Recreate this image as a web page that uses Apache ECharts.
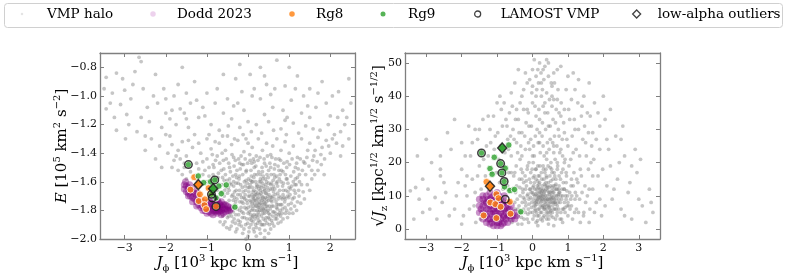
<!DOCTYPE html>
<html>
<head>
<meta charset="utf-8">
<script src="https://cdn.jsdelivr.net/npm/echarts@6/dist/echarts.min.js"></script>
<style>html,body{margin:0;padding:0;background:#fff}#c{width:793px;height:275px}</style>
</head>
<body>
<div id="c"></div>
<script>
// ---------------- data ----------------
// Left panel: J_phi [1e3 kpc km/s] vs E [1e5 km^2/s^2]
const haloE = [
[-3.45,-0.87],[-3.2,-0.84],[-2.75,-0.83],[-2.6,-0.76],[-2.65,-0.73],[-3.45,-1.09],[-3.35,-1.05],[-3.1,-1.06],[-2.95,-1.13],[-3.2,-1.24],[-2.98,-1.3],[-2.7,-1.25],[-2.5,-1.28],[-2.6,-1.15],[-2.3,-1.0],[-2.2,-1.05],[-2.0,-1.12],[-1.8,-1.0],[-1.65,-1.09],[-1.5,-0.98],[-1.3,-0.9],[-1.0,-0.98],[-0.8,-1.05],[-0.5,-1.02],[-0.3,-0.88],[0.05,-0.85],[0.3,-0.8],[0.7,-0.75],[0.9,-0.93],[1.2,-0.86],[1.5,-0.95],[1.8,-0.9],[2.2,-0.97],[2.45,-0.88],[2.3,-1.1],[2.0,-1.14],[1.65,-1.08],[1.3,-1.12],[1.05,-1.03],[0.6,-1.08],[0.3,-1.02],[-0.1,-1.1],[-0.4,-1.16],[-0.9,-1.2],[-1.2,-1.15],[-1.45,-1.22],[-1.75,-1.2],[-2.1,-1.22],[-2.35,-1.3],[-2.15,-1.35],[-1.9,-1.28],[-1.6,-1.32],[-1.3,-1.27],[-1.0,-1.3],[-0.7,-1.24],[-0.5,-1.28],[-0.2,-1.22],[0.2,-1.2],[0.5,-1.18],[0.8,-1.23],[1.1,-1.19],[1.4,-1.21],[1.75,-1.24],[2.1,-1.27],[2.35,-1.2],[2.5,-1.05],[-3.0,-0.96],[-2.85,-1.02],[-0.15,-0.97],[0.45,-0.92],
[-1.95,-1.4],[-1.8,-1.45],[-1.7,-1.38],[-1.55,-1.5],[-1.5,-1.42],[-1.35,-1.36],[-1.25,-1.47],[-1.15,-1.4],[-1.05,-1.52],[-1.0,-1.44],[-0.9,-1.37],[-0.85,-1.48],[-0.75,-1.42],[-0.7,-1.33],[-0.65,-1.52],[-0.6,-1.45],[-0.55,-1.38],[-0.45,-1.5],[-0.4,-1.34],[-0.35,-1.43],[-0.3,-1.55],[-0.25,-1.31],[-0.2,-1.47],[-0.1,-1.39],[-0.05,-1.53],[0.0,-1.33],[0.05,-1.45],[0.1,-1.36],[0.15,-1.5],[0.2,-1.42],[0.25,-1.3],[0.3,-1.55],[0.35,-1.38],[0.4,-1.47],[0.45,-1.33],[0.5,-1.52],[0.55,-1.41],[0.6,-1.35],[0.65,-1.48],[0.7,-1.3],[0.75,-1.44],[0.8,-1.38],[0.85,-1.53],[0.9,-1.32],[0.95,-1.46],[1.0,-1.4],[1.1,-1.35],[1.15,-1.5],[1.2,-1.43],[1.3,-1.3],[1.35,-1.46],[1.45,-1.38],[1.5,-1.33],[1.6,-1.42],[1.7,-1.29],[1.8,-1.36],[1.9,-1.31],[2.0,-1.4],[2.15,-1.33],[2.25,-1.42],[-1.4,-1.53],[-0.95,-1.56],[1.25,-1.55],[1.55,-1.52],
[-0.6,-1.62],[-0.55,-1.75],[-0.5,-1.68],[-0.5,-1.85],[-0.45,-1.58],[-0.42,-1.79],[-0.4,-1.7],[-0.38,-1.88],[-0.35,-1.63],[-0.32,-1.76],[-0.3,-1.83],[-0.28,-1.57],[-0.25,-1.69],[-0.22,-1.9],[-0.2,-1.74],[-0.18,-1.62],[-0.15,-1.81],[-0.12,-1.67],[-0.1,-1.93],[-0.08,-1.72],[-0.05,-1.59],[-0.03,-1.86],[0.0,-1.78],[0.0,-1.64],[0.02,-1.95],[0.04,-1.7],[0.06,-1.83],[0.08,-1.56],[0.1,-1.75],[0.12,-1.88],[0.14,-1.66],[0.16,-1.8],[0.18,-1.6],[0.2,-1.92],[0.22,-1.72],[0.24,-1.85],[0.26,-1.65],[0.28,-1.78],[0.3,-1.58],[0.32,-1.9],[0.34,-1.7],[0.36,-1.82],[0.38,-1.63],[0.4,-1.76],[0.42,-1.87],[0.44,-1.68],[0.46,-1.55],[0.48,-1.8],[0.5,-1.73],[0.52,-1.9],[0.55,-1.62],[0.58,-1.77],[0.6,-1.84],[0.62,-1.67],[0.65,-1.57],[0.68,-1.74],[0.7,-1.86],[0.72,-1.63],[0.75,-1.7],[0.78,-1.8],[0.8,-1.6],[0.83,-1.72],[0.86,-1.66],[0.9,-1.78],[0.93,-1.58],[0.96,-1.7],[1.0,-1.64],[1.05,-1.75],[1.1,-1.6],[1.15,-1.68],[1.2,-1.57],[1.3,-1.62],[1.4,-1.55],
[-0.58,-1.7],[-0.48,-1.64],[-0.44,-1.82],[-0.36,-1.73],[-0.26,-1.79],[-0.24,-1.61],[-0.16,-1.71],[-0.14,-1.85],[-0.06,-1.66],[-0.02,-1.75],[0.03,-1.81],[0.05,-1.62],[0.09,-1.69],[0.11,-1.79],[0.13,-1.93],[0.15,-1.73],[0.17,-1.86],[0.19,-1.67],[0.21,-1.77],[0.23,-1.63],[0.25,-1.81],[0.27,-1.74],[0.29,-1.88],[0.31,-1.68],[0.33,-1.76],[0.35,-1.61],[0.37,-1.86],[0.39,-1.72],[0.41,-1.66],[0.43,-1.79],[0.45,-1.74],[0.47,-1.64],[0.49,-1.85],[0.51,-1.69],[0.54,-1.79],[0.57,-1.71],[0.59,-1.65],[0.63,-1.81],[0.66,-1.69],[0.69,-1.61],[0.71,-1.79],[0.74,-1.76],[0.77,-1.66],[0.82,-1.76],[0.88,-1.71],[0.92,-1.66],[0.98,-1.76],[1.02,-1.69],[-0.7,-1.73],[-0.65,-1.8],[-0.75,-1.66],[-0.8,-1.58],[-0.68,-1.88],[-0.52,-1.92],[0.0,-1.98],[0.3,-1.96],[0.55,-1.93],[0.8,-1.88],[1.0,-1.82],[1.2,-1.74],
[0.07,-1.74],[0.12,-1.71],[0.18,-1.77],[0.2,-1.69],[0.26,-1.76],[0.3,-1.72],[0.33,-1.8],[0.38,-1.74],[0.42,-1.71],[0.27,-1.83],[0.14,-1.83],[0.36,-1.67],[0.44,-1.77],[0.1,-1.64],[0.22,-1.8],[0.4,-1.82],[0.48,-1.7],[0.52,-1.77],[-0.08,-1.78],[-0.12,-1.75],[0.01,-1.7],[0.06,-1.77],[0.16,-1.75],[0.24,-1.71],[0.34,-1.73],
[-1.1,-1.55],[-1.0,-1.6],[-0.95,-1.5],[-0.9,-1.63],[-0.85,-1.55],[-0.78,-1.6],[-0.72,-1.54],[-0.62,-1.57],[-1.2,-1.51],[-1.3,-1.56],[-1.5,-1.58],[-1.6,-1.55],[-1.7,-1.52],[-1.85,-1.5],[-0.55,-1.55],[-0.6,-1.9],[-0.45,-1.93],[-0.3,-1.95],[0.2,-1.98],
[-0.87,-1.41],[-0.83,-1.5],[-0.79,-1.45],[-0.73,-1.57],[-0.69,-1.47],[-0.66,-1.62],[-0.63,-1.4],[-0.59,-1.51],[-0.57,-1.66],[-0.53,-1.44],[-0.51,-1.59],[-0.47,-1.47],[-0.46,-1.73],[-0.43,-1.53],[-0.41,-1.62],[-0.39,-1.41],[-0.37,-1.56],[-0.34,-1.49],[-0.33,-1.67],[-0.31,-1.45],[-0.29,-1.61],[-0.27,-1.52],[-0.23,-1.44],[-0.21,-1.56],[-0.19,-1.51],[-0.17,-1.42],[-0.13,-1.55],[-0.11,-1.48],[-0.09,-1.6],[-0.07,-1.44],[-0.04,-1.52],[-0.01,-1.47],[0.01,-1.58],[0.04,-1.41],[0.07,-1.52],[0.09,-1.47],[0.11,-1.6],[0.13,-1.44],[0.16,-1.55],[0.19,-1.49],[0.21,-1.62],[0.24,-1.45],[0.26,-1.53],[0.29,-1.43],[0.31,-1.6],[0.34,-1.5],[0.37,-1.56],[0.39,-1.44],[0.42,-1.58],[0.44,-1.49],[0.47,-1.42],[0.5,-1.61],[0.53,-1.47],[0.56,-1.55],[0.58,-1.43],[0.61,-1.59],[0.64,-1.51],[0.67,-1.44],[0.7,-1.56],[0.73,-1.49],[0.76,-1.58],[0.79,-1.45],[0.81,-1.52],[0.84,-1.63],[0.87,-1.47],[0.91,-1.55],[0.94,-1.5],[0.97,-1.61],[1.01,-1.48],[1.04,-1.56],[1.07,-1.44],[1.11,-1.53],[1.14,-1.62],[1.18,-1.47],[1.22,-1.51],[1.27,-1.44],[1.32,-1.52],[1.38,-1.47],[1.43,-1.43],[1.48,-1.49],[1.57,-1.45],[1.63,-1.38],[1.68,-1.46],[1.77,-1.41],[1.86,-1.44],[1.96,-1.35],[2.05,-1.3],
[-0.62,-1.84],[-0.56,-1.88],[-0.41,-1.91],[-0.34,-1.86],[-0.27,-1.93],[-0.19,-1.88],[-0.13,-1.96],[-0.06,-1.9],[0.03,-1.92],[0.08,-1.87],[0.15,-1.95],[0.23,-1.89],[0.28,-1.93],[0.35,-1.9],[0.41,-1.94],[0.46,-1.89],[0.5,-1.96],[0.57,-1.87],[0.63,-1.91],[0.68,-1.84],[0.73,-1.89],[0.79,-1.84],[0.85,-1.86],[0.91,-1.82],[0.96,-1.85],[1.04,-1.79],[1.09,-1.82],[1.13,-1.77],[1.18,-1.8],[1.24,-1.7],[1.28,-1.75],[1.34,-1.67],[1.37,-1.72],[1.44,-1.62],[1.5,-1.66],[1.55,-1.58],[1.62,-1.55],[1.7,-1.52],[1.78,-1.48],[1.85,-1.55],[-0.05,-2.0],[0.4,-1.99],
[-0.46,-1.66],[-0.39,-1.78],[-0.33,-1.71],[-0.29,-1.66],[-0.23,-1.83],[-0.21,-1.66],[-0.17,-1.78],[-0.11,-1.82],[-0.07,-1.63],[-0.04,-1.79],[0.02,-1.67],[0.04,-1.86],[0.09,-1.6],[0.13,-1.77],[0.17,-1.69],[0.19,-1.84],[0.23,-1.75],[0.28,-1.69],[0.32,-1.64],[0.37,-1.79],[0.41,-1.75],[0.46,-1.81],[0.5,-1.66],[0.53,-1.83],[0.56,-1.73],[0.61,-1.77],[0.64,-1.72],[0.67,-1.82],[0.72,-1.68],[0.76,-1.82],[0.8,-1.71],[0.84,-1.79],[0.89,-1.74],[0.94,-1.8],[0.99,-1.71],[1.03,-1.65],[1.08,-1.72],[1.12,-1.66],[1.17,-1.62],[1.23,-1.66],[0.45,-1.6],[0.6,-1.7],[0.35,-1.78],[0.15,-1.7],[-0.15,-1.74],[-0.3,-1.74],[0.7,-1.76],[0.27,-1.6],[0.55,-1.65],[0.05,-1.73],
[-2.8,-0.92],[-3.3,-0.98],[-2.45,-1.08],[-2.05,-0.95],[-1.9,-1.16],[-1.55,-1.12],[-1.4,-1.05],[-1.1,-1.08],[-0.6,-1.12],[-0.25,-1.05],[0.15,-0.95],[0.55,-0.99],[0.85,-1.1],[1.35,-1.0],[1.9,-1.05],[2.4,-1.15],[-2.5,-1.38],[-2.25,-1.44],[-2.0,-1.27],[-1.85,-1.34],[-1.65,-1.44],[-1.45,-1.31],[-1.2,-1.33],[-1.1,-1.46],[-0.95,-1.27],[-0.8,-1.32],[-0.62,-1.28],[-0.48,-1.21],[-0.33,-1.3],[-0.12,-1.27],[0.08,-1.25],[0.33,-1.26],[0.62,-1.24],[0.93,-1.27],[1.23,-1.26],[1.58,-1.23],[1.95,-1.2],[2.18,-1.15],[-1.25,-1.58],[-1.55,-1.47],[-1.75,-1.42],[-2.1,-1.5],[0.0,-1.18],[0.4,-1.13],[-0.05,-1.3],[0.9,-1.17],[1.5,-1.15],[2.3,-1.35],
[-0.35,-1.6],[-0.22,-1.58],[-0.14,-1.64],[-0.02,-1.61],[0.06,-1.59],[0.14,-1.57],[0.22,-1.55],[0.29,-1.63],[0.36,-1.58],[0.43,-1.62],[0.49,-1.57],[0.57,-1.61],[0.63,-1.55],[0.71,-1.6],[0.78,-1.55],[0.86,-1.61],[-0.4,-1.84],[-0.31,-1.89],[-0.24,-1.87],[-0.16,-1.91],[-0.09,-1.85],[-0.01,-1.89],[0.07,-1.9],[0.11,-1.84],[0.18,-1.9],[0.26,-1.87],[0.33,-1.84],[0.39,-1.9],[0.44,-1.85],[0.52,-1.86],[0.59,-1.89],[0.66,-1.86],[0.74,-1.83],[0.83,-1.82],[-0.53,-1.78],[-0.47,-1.84],[-0.37,-1.69],[-0.27,-1.72],[-0.19,-1.69],[-0.1,-1.71],[-0.03,-1.73],[0.08,-1.8],[0.12,-1.67],[0.19,-1.73],[0.25,-1.78],[0.31,-1.75],[0.36,-1.71],[0.43,-1.68],[0.47,-1.77],[0.54,-1.71],[0.6,-1.81],[0.65,-1.65],[0.69,-1.78],[0.73,-1.72],[0.79,-1.76],[0.85,-1.69],[0.91,-1.72],[0.97,-1.67],[1.06,-1.63],[1.15,-1.58],[-0.64,-1.67],[-0.58,-1.59],[-0.53,-1.64],[-0.44,-1.61],[-0.36,-1.81],[-0.2,-1.8],[0.0,-1.82],[0.1,-1.85],[0.21,-1.83],[0.29,-1.8],[0.39,-1.8],[0.5,-1.82],[0.58,-1.74],[0.62,-1.63],[0.3,-1.66],[0.2,-1.64],[0.4,-1.65],[0.13,-1.72],[0.24,-1.68],[0.46,-1.72],[-0.07,-1.69],[0.03,-1.64],[0.35,-1.53],[0.55,-1.5],[0.15,-1.46],[-0.15,-1.48],[0.75,-1.52],[0.95,-1.58],[1.12,-1.71],[1.25,-1.6],
[-3.5,-0.95],[-3.25,-1.15],[-3.05,-0.88],[-2.9,-1.2],[-2.55,-0.95],[-2.4,-1.18],[-2.25,-0.85],[-2.0,-1.02],[-1.85,-1.1],[-1.7,-0.92],[-1.5,-1.16],[-1.25,-1.03],[-1.05,-1.14],[-0.75,-0.95],[-0.6,-0.85],[-0.35,-1.07],[0.1,-1.0],[0.4,-0.86],[0.65,-0.95],[0.95,-1.15],[1.15,-0.95],[1.45,-1.07],[1.7,-0.98],[2.05,-1.0],[2.25,-1.25],[2.45,-1.3],[-1.6,-0.8],[-0.2,-0.78],[1.0,-0.8]
];
const doddE = [
[-1.55,-1.62],[-1.55,-1.65],[-1.5,-1.63],[-1.5,-1.67],[-1.45,-1.64],[-1.45,-1.68],[-1.45,-1.7],[-1.4,-1.66],[-1.4,-1.7],[-1.35,-1.67],[-1.35,-1.71],[-1.35,-1.74],[-1.3,-1.68],[-1.3,-1.72],[-1.25,-1.7],[-1.25,-1.74],[-1.25,-1.77],[-1.2,-1.72],[-1.2,-1.76],[-1.15,-1.73],[-1.15,-1.78],[-1.1,-1.74],[-1.1,-1.77],[-1.1,-1.8],[-1.05,-1.76],[-1.05,-1.8],[-1.0,-1.75],[-1.0,-1.79],[-1.0,-1.82],[-0.95,-1.74],[-0.95,-1.78],[-0.95,-1.81],[-0.9,-1.75],[-0.9,-1.79],[-0.9,-1.82],[-0.85,-1.73],[-0.85,-1.77],[-0.85,-1.8],[-0.85,-1.83],[-0.8,-1.74],[-0.8,-1.78],[-0.8,-1.81],[-0.75,-1.73],[-0.75,-1.76],[-0.75,-1.79],[-0.75,-1.82],[-0.7,-1.75],[-0.7,-1.78],[-0.7,-1.81],[-0.65,-1.74],[-0.65,-1.77],[-0.65,-1.8],[-0.65,-1.83],[-0.6,-1.76],[-0.6,-1.79],[-0.6,-1.82],[-0.55,-1.76],[-0.55,-1.79],[-0.55,-1.81],[-0.5,-1.77],[-0.5,-1.8],[-0.45,-1.78],[-0.45,-1.8],[-0.42,-1.79],
[-1.52,-1.6],[-1.42,-1.62],[-1.32,-1.65],[-1.22,-1.68],[-0.92,-1.77],[-0.82,-1.76],[-0.72,-1.8],[-0.62,-1.78],[-0.68,-1.76],[-0.78,-1.8]
];
const rg8E = [[-1.31,-1.568],[-1.40,-1.655],[-1.17,-1.688],[-1.20,-1.735],[-1.05,-1.723],[-1.06,-1.763],[-1.02,-1.791],[-0.96,-1.644],[-0.91,-1.683],[-0.78,-1.772],[-1.21,-1.62]];
const rg9E = [[-1.21,-1.56],[-1.08,-1.606],[-0.91,-1.60],[-0.71,-1.63],[-0.53,-1.622],[-0.65,-1.683],[-0.78,-1.713],[-0.32,-1.777],[-1.45,-1.48],[-0.81,-1.587],[-0.89,-1.688],[-0.85,-1.648]];
const lamostE = [[-1.45,-1.48],[-0.81,-1.587],[-0.89,-1.688],[-0.78,-1.772],[-0.87,-1.713]];
const outlierE = [[-1.21,-1.62],[-0.85,-1.648]];
const outlierGroupE = ['Rg8','Rg9'];

// Right panel: J_phi vs sqrt(J_z)
const haloJz = [
[-3.45,11.5],[-3.3,12.5],[-3.2,9],[-3.1,5],[-2.95,12],[-2.85,20],[-2.7,3],[-2.6,16],[-2.55,8],[-2.45,11],[-2.3,24],[-2.2,6],[-2.1,14],[-2.0,18],[-1.95,4],[-1.85,10],[-1.8,31],[-1.75,22],[-1.7,15],[-1.65,7],[-1.55,27],[-1.5,19],[-1.45,12],[-1.4,33],[-1.3,25],[-1.2,30],[-1.15,17],[-1.05,28],[-1.0,38],[-0.95,21],[-3.0,27],[-2.4,29],[-2.75,9.5],[-2.0,1.5],[-1.6,2],[3.3,12],[3.1,7],[2.95,17],[2.8,3],[2.7,11],[2.6,22],[2.5,6],[2.4,15],[2.35,28],[2.25,9],[2.2,19],[2.1,13],[2.05,33],[1.95,4],[1.9,24],[1.85,16],[1.8,8],[1.75,38],[1.7,29],[1.65,20],[1.6,12],[1.55,35],[1.5,26],[1.45,5],[1.4,37],[1.38,34],[1.35,18],[1.3,30],[1.25,10],[1.2,42],[1.15,23],[1.1,15],[1.05,33],[1.0,46],[2.9,24],[3.2,2],[2.0,40],[0.8,49],[0.6,47],[0.4,51],[0.35,49],[0.2,50],[0.1,46],[0.0,48],[-0.15,44],[-0.3,40],[-0.45,36],[-0.6,41],[-0.75,33],[0.55,43],[0.7,39],[0.9,36],[0.25,44],
[-0.9,25],[-0.85,31],[-0.8,19],[-0.7,27],[-0.65,35],[-0.6,22],[-0.55,30],[-0.5,17],[-0.45,26],[-0.4,33],[-0.35,21],[-0.3,29],[-0.25,36],[-0.2,24],[-0.15,18],[-0.1,31],[-0.05,27],[0.0,38],[0.05,22],[0.1,34],[0.15,19],[0.2,29],[0.25,40],[0.3,25],[0.35,35],[0.4,21],[0.45,31],[0.5,27],[0.55,37],[0.6,23],[0.65,32],[0.7,18],[0.75,28],[0.8,34],[0.85,22],[0.9,29],[0.95,17],[1.0,25],[0.12,42],[0.32,45],[-0.02,41],[0.48,39],[-0.35,38],[0.18,36],[0.42,26],[0.08,28],[0.28,32],[-0.18,32],[0.62,28],[0.72,42],[-0.62,28],[-0.78,23],[0.38,18],[0.02,20],[-0.28,17],[0.52,20],[0.82,17],[0.22,23],[-0.08,24],[0.58,33],
[-0.5,8],[-0.45,13],[-0.4,4],[-0.35,10],[-0.3,15],[-0.25,6],[-0.2,12],[-0.15,3],[-0.1,9],[-0.05,14],[0.0,5],[0.0,11],[0.05,16],[0.08,7],[0.1,2],[0.12,12],[0.15,9],[0.18,4],[0.2,14],[0.22,7],[0.25,11],[0.28,2.5],[0.3,9],[0.32,15],[0.35,6],[0.38,12],[0.4,3],[0.42,10],[0.45,14],[0.48,7],[0.5,11],[0.52,4],[0.55,9],[0.58,15],[0.6,6],[0.62,12],[0.65,3],[0.68,10],[0.7,7],[0.75,13],[0.8,5],[0.85,10],[0.9,8],[0.95,14],[1.0,4],[1.05,11],[1.1,7],[1.15,13],[1.2,9],[1.3,5],[1.4,11],[1.5,8],
[-0.48,11],[-0.38,7],[-0.28,12],[-0.22,9],[-0.12,6],[-0.08,12],[-0.02,8],[0.03,13],[0.06,10],[0.11,5],[0.14,13],[0.17,8],[0.19,11],[0.23,10],[0.26,5],[0.27,13],[0.31,7],[0.33,11],[0.36,9],[0.39,5],[0.41,13],[0.44,8],[0.46,11],[0.49,5],[0.51,13],[0.54,8],[0.57,11],[0.61,9],[0.64,13],[0.67,6],[0.72,10],[0.78,8],[0.83,12],[0.88,6],[0.93,10],[0.98,7],[1.08,9],
[0.02,9],[0.09,8],[0.13,10],[0.16,6],[0.21,9],[0.24,8],[0.29,10],[0.34,8],[0.37,10],[0.43,9],[0.47,9],[0.53,10],[0.59,8],[0.66,9],[0.74,9],[0.07,12],[0.2,12],[0.3,12],[0.4,7],[0.5,8],[0.6,11],[0.7,12],[-0.15,10],[-0.25,14],[0.1,15],[0.35,17],[0.55,17],[0.75,16],[-0.05,17],[0.25,17],[0.15,1],[0.45,1.5],[0.6,1],[0.85,2],[-0.3,1.5],[-0.6,3],[-0.7,6],[-0.65,12],[-0.75,15],[1.25,15],[1.35,2],
[-0.78,9],[-0.74,4],[-0.7,13],[-0.67,17],[-0.63,8],[-0.58,2],[-0.56,12],[-0.53,16],[-0.49,6],[-0.46,19],[-0.43,9],[-0.41,1.5],[-0.37,15],[-0.34,5],[-0.32,18],[-0.29,8],[-0.27,11],[-0.24,3],[-0.21,16],[-0.19,7],[-0.17,13],[-0.14,19],[-0.11,2],[-0.09,15],[-0.07,5],[-0.04,11],[-0.01,18],[0.01,3],[0.04,7],[0.06,14],[0.09,18],[0.11,9],[0.14,4],[0.16,16],[0.19,6],[0.21,19],[0.23,3],[0.26,15],[0.28,7],[0.31,18],[0.33,4],[0.36,13],[0.39,16],[0.41,6],[0.44,19],[0.46,3],[0.49,16],[0.51,9],[0.54,18],[0.56,5],[0.59,13],[0.61,17],[0.64,8],[0.66,15],[0.69,4],[0.71,19],[0.74,6],[0.77,11],[0.79,15],[0.82,3],[0.86,18],[0.89,12],[0.92,5],[0.96,16],[0.99,10],[1.03,19],[1.06,6],[1.09,13],[1.13,3],[1.17,17],[1.21,11],[1.24,6],[1.28,14],[1.33,9],[1.38,16],[1.44,4],[1.48,13],[1.55,10],[1.62,6],[1.7,12],
[0.03,10.5],[0.08,5.5],[0.12,7.5],[0.17,12.5],[0.22,9.5],[0.27,6.5],[0.32,10.5],[0.37,7.5],[0.42,12.5],[0.47,6.5],[0.52,9.5],[0.57,7],[0.62,10],[0.67,12],[0.72,8],[0.18,9.5],[0.28,11.5],[0.38,8.5],[0.48,10.5],[0.58,9.5],[0.13,11],[0.33,9.5],[0.43,11.5],[0.24,12],[-0.03,6.5],[-0.13,10.5],[-0.2,8],[0.8,10],[0.9,12],[1.0,8],[0.63,6],[0.44,5],[0.26,8.5],[0.06,8],[0.34,13.5],[0.52,14.5],[0.15,14.5],[-0.06,9.5],[0.75,11],[0.95,9],
[-0.72,31],[-0.68,24],[-0.57,37],[-0.52,27],[-0.48,33],[-0.42,23],[-0.38,29],[-0.33,25],[-0.22,28],[-0.12,35],[-0.11,26],[-0.03,31],[0.03,25],[0.07,37],[0.13,30],[0.16,26],[0.2,33],[0.24,47],[0.27,28],[0.3,37],[0.33,22],[0.37,30],[0.4,41],[0.43,35],[0.47,24],[0.5,31],[0.53,44],[0.57,26],[0.6,39],[0.64,21],[0.67,36],[0.69,25],[0.73,30],[0.77,23],[0.81,38],[0.84,27],[0.88,32],[0.92,21],[0.97,27],[1.02,36],[1.08,21],[1.12,28],[1.18,33],[1.23,24],[1.28,38],[1.33,22],[1.42,27],[1.47,31],[1.52,22],[1.58,29],[1.63,34],[1.67,25],[1.73,21],[1.8,27],[1.9,31],[0.1,40],[0.17,44],[0.28,42],[0.45,46],[0.62,44],[-0.08,45],[-0.25,42],[0.05,51],[0.3,48],[0.15,48],
[-2.9,6],[-2.5,14],[-2.35,4],[-2.15,10],[-1.9,13],[-1.78,6],[-1.62,11],[-1.55,16],[-1.47,3],[-1.38,21],[-1.33,16],[-1.25,22],[-1.18,26],[-1.12,13],[-1.08,24],[-1.02,17],[-0.98,29],[-0.93,14],[-0.88,36],[-0.83,12],[-1.7,26],[-1.9,22],[-2.2,33],[-1.25,34],[-0.92,40],[1.6,2],[1.75,5],[1.9,9],[2.05,7],[2.15,24],[2.3,12],[2.45,20],[2.6,4],[2.75,14],[3.0,9],[3.4,5],[1.98,18],[1.58,18],[1.7,16],[2.1,27],[2.55,31],[1.85,35],[1.45,40],[1.2,30],[-1.85,16],[-2.6,22],[-3.35,3],[-1.35,8],[-1.62,30],[-0.6,17],
[-0.42,6],[-0.36,12.5],[-0.31,3.5],[-0.26,9.5],[-0.18,14.5],[-0.13,4.5],[-0.06,12],[0.02,15.5],[0.05,4],[0.09,10.5],[0.14,2.5],[0.18,13.5],[0.22,5],[0.26,10],[0.3,3.5],[0.34,6.5],[0.38,14],[0.42,4],[0.46,12.5],[0.5,6],[0.54,11.5],[0.58,3.5],[0.62,8],[0.66,13.5],[0.7,5],[0.74,12],[0.78,3],[0.82,9],[0.87,14],[0.92,6.5],[0.97,11.5],[1.02,7],[1.11,10],[1.19,5],[0.07,6],[0.16,10],[0.27,9],[0.35,11.5],[0.45,7],[0.55,12.5],[0.65,7.5],[0.73,10.5],[0.12,8.5],[0.32,6],[0.52,5.5],[0.42,9],[0.23,11],[0.01,12.5],[-0.1,7.5],[-0.2,5],[0.85,6],[0.63,16],[0.2,16],[0.4,15.5],[0.1,18],[0.3,19],[0.5,18.5],[0.7,20],[-0.1,20],[0.9,20],[0.0,22],[0.4,23],[0.6,25],[0.2,26],[-0.3,22],[0.8,24],
[-0.5,44],[-0.2,47],[0.45,50],[0.7,48],[0.95,42],[1.1,39],[1.3,45],[-0.8,38],[-1.1,34],[-1.5,30],[-2.0,26],[-2.6,18],[-3.1,15],[-3.25,22],[2.2,36],[2.5,27],[2.8,19],[3.05,21],[3.35,8],[1.6,44],[-0.4,48],[0.0,43],[0.55,40],[0.35,38],[0.75,35],[-0.15,36],[1.15,47]
];
const doddJz = [
[-1.5,5],[-1.5,7],[-1.5,9],[-1.4,3],[-1.4,5],[-1.4,7],[-1.4,9],[-1.4,10],[-1.3,2],[-1.3,4],[-1.3,6],[-1.3,8],[-1.3,10],[-1.2,1.5],[-1.2,3],[-1.2,5],[-1.2,7],[-1.2,9],[-1.2,11],[-1.1,1],[-1.1,3],[-1.1,5],[-1.1,6],[-1.1,8],[-1.1,10],[-1.0,1],[-1.0,2],[-1.0,4],[-1.0,6],[-1.0,8],[-1.0,10],[-1.0,11],[-0.9,1],[-0.9,3],[-0.9,5],[-0.9,7],[-0.9,9],[-0.8,2],[-0.8,4],[-0.8,6],[-0.8,8],[-0.8,10],[-0.7,2],[-0.7,4],[-0.7,6],[-0.7,8],[-0.6,3],[-0.6,5],[-0.6,7],[-0.5,3],[-0.5,5],[-0.45,4],
[-1.45,6],[-1.35,4],[-1.35,8],[-1.25,3],[-1.25,6],[-1.25,9],[-1.15,2],[-1.15,4.5],[-1.15,7],[-1.15,9.5],[-1.05,3],[-1.05,5],[-1.05,7],[-1.05,9],[-0.95,2],[-0.95,4],[-0.95,6],[-0.95,8],[-0.95,10],[-0.85,1.5],[-0.85,3.5],[-0.85,5.5],[-0.85,7.5],[-0.75,3],[-0.75,5],[-0.75,7],[-0.65,4],[-0.65,6],[-0.55,4]
];
const rg8Jz = [[-1.30,14.2],[-1.02,10.5],[-0.96,9.3],[-1.19,8.0],[-1.05,7.5],[-0.90,6.7],[-0.64,8.2],[-1.38,4.1],[-1.02,3.3],[-0.62,4.6],[-1.20,12.9]];
const rg9Jz = [[-0.67,25.3],[-1.08,21.6],[-1.20,18.2],[-0.77,18.3],[-1.14,16.5],[-0.79,12.7],[-0.64,11.6],[-0.51,11.9],[-0.33,5.2],[-1.44,22.9],[-0.90,19.7],[-0.865,16.9],[-0.80,14.3],[-0.855,24.4]];
const lamostJz = [[-1.44,22.9],[-0.90,19.7],[-0.865,16.9],[-0.80,14.3],[-0.77,9.0]];
const outlierJz = [[-1.20,12.9],[-0.855,24.4]];
const outlierGroupJz = ['Rg8','Rg9'];

const xTicksL = [-3,-2,-1,0,1,2];
const yTicksL = [-2.0,-1.8,-1.6,-1.4,-1.2,-1.0,-0.8];
const xTicksR = [-3,-2,-1,0,1,2,3];
const yTicksR = [0,10,20,30,40,50];

// ---------------- styling ----------------
const FONT = 'DejaVu Serif';
const AX = '#7f7f7f';
const C_ORANGE = '#ff7f0e', C_GREEN = '#2ca02c', C_PURPLE = '#800080';
const groupColor = {Rg8: C_ORANGE, Rg9: C_GREEN};
const fmtMinus = s => String(s).replace('-', '\u2212');

const richName = {
  i: {fontFamily: FONT, fontStyle: 'italic', fontSize: 15, lineHeight: 20, color: '#000'},
  sup: {fontFamily: FONT, fontSize: 10, lineHeight: 11, verticalAlign: 'top', color: '#000'},
  sub: {fontFamily: FONT, fontSize: 10, lineHeight: 11, verticalAlign: 'bottom', color: '#000'}
};
const nameStyle = {fontFamily: FONT, fontSize: 15, lineHeight: 20, color: '#000', rich: richName};

function mkX(gi, min, max, ticks, pos, name) {
  const main = pos === 'bottom';
  return {
    type: 'value', gridIndex: gi, position: pos, min: min, max: max,
    name: main ? name : '', nameLocation: 'middle', nameGap: 14, nameMoveOverlap: false, nameTextStyle: nameStyle,
    axisLine: {show: true, onZero: false, lineStyle: {color: AX, width: 1.3}},
    axisTick: {show: true, inside: true, length: 4, customValues: ticks, lineStyle: {color: AX, width: 1}},
    axisLabel: {show: main, customValues: ticks, margin: 4, fontFamily: FONT, fontSize: 11, color: '#111', formatter: v => fmtMinus(v)},
    splitLine: {show: false}
  };
}
function mkY(gi, min, max, ticks, pos, name, gap, fmt) {
  const main = pos === 'left';
  return {
    type: 'value', gridIndex: gi, position: pos, min: min, max: max,
    name: main ? name : '', nameLocation: 'middle', nameGap: gap, nameMoveOverlap: false, nameRotate: 90, nameTextStyle: nameStyle,
    axisLine: {show: true, onZero: false, lineStyle: {color: AX, width: 1.3}},
    axisTick: {show: true, inside: true, length: 4, customValues: ticks, lineStyle: {color: AX, width: 1}},
    axisLabel: {show: main, customValues: ticks, margin: 3, fontFamily: FONT, fontSize: 11, color: '#111', formatter: fmt},
    splitLine: {show: false}
  };
}

const xName = '{i|J}{sub|\u03d5} [10{sup|3} kpc km s{sup|\u22121}]';
const yNameL = '{i|E} [10{sup|5} km{sup|2} s{sup|\u22122}]';
const yNameR = '\u221a{i|J}{sub|z} [kpc{sup|1/2} km{sup|1/2} s{sup|\u22121/2}]';

function outlierItems(pts, groups) {
  return pts.map((p, k) => ({value: p, itemStyle: {color: groupColor[groups[k]]}}));
}

function panelSeries(gi, halo, dodd, rg8, rg9, lamost, outl, outlG) {
  const xi = gi * 2, yi = gi * 2;
  return [
    {name: 'VMP halo', type: 'scatter', xAxisIndex: xi, yAxisIndex: yi, data: halo, symbolSize: 3.8,
      itemStyle: {color: '#808080', opacity: 0.45}, silent: true},
    {name: 'Dodd 2023', type: 'scatter', xAxisIndex: xi, yAxisIndex: yi, data: dodd, symbolSize: 7,
      itemStyle: {color: C_PURPLE, opacity: 0.42}, silent: true},
    {name: 'Rg8', type: 'scatter', xAxisIndex: xi, yAxisIndex: yi, data: rg8, symbolSize: 7,
      itemStyle: {color: C_ORANGE, borderColor: '#fff', borderWidth: 1}, silent: true},
    {name: 'Rg9', type: 'scatter', xAxisIndex: xi, yAxisIndex: yi, data: rg9, symbolSize: 6.5,
      itemStyle: {color: C_GREEN, borderColor: '#fff', borderWidth: 1}, silent: true},
    {name: 'LAMOST VMP', type: 'scatter', xAxisIndex: xi, yAxisIndex: yi, data: lamost, symbolSize: 7.5,
      itemStyle: {color: 'rgba(0,0,0,0)', borderColor: '#111', borderWidth: 1.5}, silent: true},
    {name: 'low-alpha outliers', type: 'scatter', symbol: 'diamond', xAxisIndex: xi, yAxisIndex: yi,
      data: outlierItems(outl, outlG), symbolSize: [9, 10],
      itemStyle: {color: 'rgba(0,0,0,0)', borderColor: '#111', borderWidth: 1.5}, silent: true}
  ];
}

// legend entry: marker centred at cx, text starting at tx
function leg(name, cx, tx, h, icon, style) {
  return {
    left: cx - h / 2, top: 7, padding: 0, itemGap: 0, itemWidth: h, itemHeight: h, selectedMode: false, z: 10,
    textStyle: {fontFamily: FONT, fontSize: 13.5, color: '#000', padding: [0, 0, 0, tx - cx - h / 2 - 5]},
    data: [{name: name, icon: icon, itemStyle: style}]
  };
}

const option = {
  animation: false,
  backgroundColor: '#fff',
  graphic: [{type: 'rect', z: 1, shape: {x: 4.5, y: 3.5, width: 778, height: 24, r: 3},
    style: {fill: '#fff', stroke: '#d0d0d0', lineWidth: 1}}],
  legend: [
    leg('VMP halo', 22, 47, 2.5, 'circle', {color: '#c4c4c4', borderWidth: 0}),
    leg('Dodd 2023', 153, 177, 5.5, 'circle', {color: '#d494d4', borderWidth: 0}),
    leg('Rg8', 292, 316, 5.5, 'circle', {color: C_ORANGE, borderWidth: 0}),
    leg('Rg9', 383, 408, 5, 'circle', {color: C_GREEN, borderWidth: 0}),
    leg('LAMOST VMP', 477, 500, 6, 'circle', {color: 'rgba(0,0,0,0)', borderColor: '#111', borderWidth: 1.3}),
    leg('low-alpha outliers', 636, 657, 8, 'diamond', {color: 'rgba(0,0,0,0)', borderColor: '#111', borderWidth: 1.3})
  ],
  grid: [
    {left: 100, top: 53, width: 255, height: 186, containLabel: false, outerBoundsMode: 'none'},
    {left: 405, top: 53, width: 255, height: 186, containLabel: false, outerBoundsMode: 'none'}
  ],
  xAxis: [
    mkX(0, -3.6, 2.6, xTicksL, 'bottom', xName),
    mkX(0, -3.6, 2.6, xTicksL, 'top', ''),
    mkX(1, -3.6, 3.6, xTicksR, 'bottom', xName),
    mkX(1, -3.6, 3.6, xTicksR, 'top', '')
  ],
  yAxis: [
    mkY(0, -2.0, -0.7, yTicksL, 'left', yNameL, 28, v => fmtMinus(v.toFixed(1))),
    mkY(0, -2.0, -0.7, yTicksL, 'right', '', 0, v => v),
    mkY(1, -3, 53, yTicksR, 'left', yNameR, 16, v => fmtMinus(v)),
    mkY(1, -3, 53, yTicksR, 'right', '', 0, v => v)
  ],
  series: [].concat(
    panelSeries(0, haloE, doddE, rg8E, rg9E, lamostE, outlierE, outlierGroupE),
    panelSeries(1, haloJz, doddJz, rg8Jz, rg9Jz, lamostJz, outlierJz, outlierGroupJz)
  )
};
const chart = echarts.init(document.getElementById('c'), null, {renderer: 'canvas'});
chart.setOption(option);
</script>
</body>
</html>
